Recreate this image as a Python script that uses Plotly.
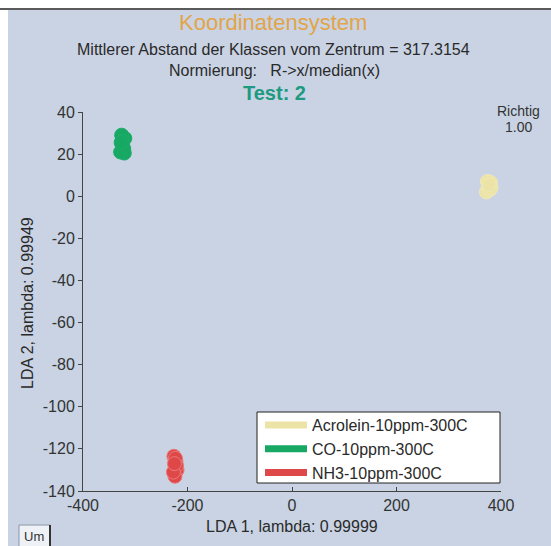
import plotly.graph_objects as go

# ---- data ----
acrolein_x = [372, 376, 380, 378, 374, 381, 377]
acrolein_y = [2.0, 4.5, 6.5, 3.0, 7.0, 4.0, 5.5]
co_x = [-328, -324, -320, -326, -322, -325, -321, -327]
co_y = [21.0, 24.0, 27.5, 29.0, 22.5, 26.0, 20.5, 25.5]
nh3_x = [-226, -222, -220, -224, -221, -227, -223, -225]
nh3_y = [-123.5, -126.0, -130.0, -133.0, -128.0, -131.0, -124.5, -127.0]

series_names = ["Acrolein-10ppm-300C", "CO-10ppm-300C", "NH3-10ppm-300C"]
series_colors = ["#ece4a6", "#17a864", "#de4848"]

x_ticks = [-400, -200, 0, 200, 400]
y_ticks = [40, 20, 0, -20, -40, -60, -80, -100, -120, -140]

W, H = 551, 546
L, R, T, B = 83, 50, 112, 55
PW, PH = W - L - R, H - T - B


def px(xp):
    return (xp - L) / PW


def py(yp):
    return (H - B - yp) / PH


FONT = "Liberation Sans, Arial, sans-serif"
BG = "#c9d3e4"

fig = go.Figure()

data_sets = [(acrolein_x, acrolein_y), (co_x, co_y), (nh3_x, nh3_y)]
line_cols = ["#efe9b8", "#1cad69", "#ec7a7a"]
for (xs, ys), name, col, lc in zip(data_sets, series_names, series_colors, line_cols):
    fig.add_trace(go.Scatter(
        x=xs, y=ys, mode="markers", name=name, showlegend=False,
        marker=dict(size=14, color=col, line=dict(color=lc, width=1)),
    ))

# legend entries (line swatches)
for name, col in zip(series_names, series_colors):
    fig.add_trace(go.Scatter(
        x=[None], y=[None], mode="lines", name=name,
        line=dict(color=col, width=7),
    ))

shapes = [
    dict(type="rect", xref="paper", yref="paper",
         x0=px(8), x1=px(W + 5), y0=py(10), y1=py(H + 5),
         fillcolor=BG, line=dict(width=0), layer="below"),
    dict(type="line", xref="paper", yref="paper",
         x0=px(-2), x1=px(W + 2), y0=py(9), y1=py(9),
         line=dict(color="#5a5a5a", width=2)),
    dict(type="rect", xref="paper", yref="paper",
         x0=px(19), x1=px(50), y0=py(525), y1=py(H + 2),
         fillcolor="#eef1f6", line=dict(color="#8a96a8", width=1)),
    dict(type="line", xref="paper", yref="paper",
         x0=px(50), x1=px(50), y0=py(525), y1=py(H + 2),
         line=dict(color="#333333", width=2)),
    # legend frame
    dict(type="rect", xref="paper", yref="paper",
         x0=px(257), x1=px(500), y0=py(412), y1=py(483),
         fillcolor="white", line=dict(color="#222222", width=1)),
]

annotations = [
    dict(text="Koordinatensystem", x=px(273), y=py(23), xref="paper", yref="paper",
         showarrow=False, font=dict(size=22, color="#e2a548", family=FONT),
         xanchor="center", yanchor="middle"),
    dict(text="Mittlerer Abstand der Klassen vom Zentrum = 317.3154", x=px(273), y=py(50),
         xref="paper", yref="paper", showarrow=False,
         font=dict(size=16, color="#2a2a2a", family=FONT), xanchor="center", yanchor="middle"),
    dict(text="Normierung:   R-&gt;x/median(x)", x=px(274), y=py(71),
         xref="paper", yref="paper", showarrow=False,
         font=dict(size=16, color="#2a2a2a", family=FONT), xanchor="center", yanchor="middle"),
    dict(text="<b>Test: 2</b>", x=px(274), y=py(93), xref="paper", yref="paper",
         showarrow=False, font=dict(size=20, color="#1d9a80", family=FONT),
         xanchor="center", yanchor="middle"),
    dict(text="Richtig", x=px(495), y=py(111), xref="paper", yref="paper",
         showarrow=False, font=dict(size=14, color="#333333", family=FONT),
         xanchor="left", yanchor="middle"),
    dict(text="1.00", x=px(518), y=py(127), xref="paper", yref="paper",
         showarrow=False, font=dict(size=14, color="#333333", family=FONT),
         xanchor="center", yanchor="middle"),
    dict(text="LDA 1, lambda: 0.99999", x=px(292), y=py(526), xref="paper", yref="paper",
         showarrow=False, font=dict(size=16, color="#2a2a2a", family=FONT),
         xanchor="center", yanchor="middle"),
    dict(text="LDA 2, lambda: 0.99949", x=px(27), y=py(303), xref="paper", yref="paper",
         showarrow=False, textangle=-90, font=dict(size=16, color="#2a2a2a", family=FONT),
         xanchor="center", yanchor="middle"),
    dict(text="Um", x=px(34), y=py(536), xref="paper", yref="paper",
         showarrow=False, font=dict(size=13, color="#333333", family=FONT),
         xanchor="center", yanchor="middle"),
]

fig.update_layout(
    width=W, height=H, autosize=False,
    margin=dict(l=L, r=R, t=T, b=B, pad=0),
    paper_bgcolor="white", plot_bgcolor="white",
    font=dict(family=FONT, color="#333333", size=16),
    shapes=shapes, annotations=annotations,
    showlegend=True,
    legend=dict(
        x=px(260), y=py(408), xanchor="left", yanchor="top",
        bgcolor="rgba(0,0,0,0)", borderwidth=0,
        font=dict(size=16, color="#2a2a2a", family=FONT),
        itemwidth=42, tracegroupgap=0,
    ),
)

fig.update_xaxes(
    range=[-400, 400], tickvals=x_ticks, ticktext=[str(v) for v in x_ticks],
    showgrid=False, zeroline=False, showline=True, linecolor="#444444", linewidth=1,
    ticks="inside", ticklen=4, tickcolor="#444444",
    tickfont=dict(size=16, color="#333333", family=FONT),
)
fig.update_yaxes(
    range=[-140, 40], tickvals=y_ticks, ticktext=[str(v) for v in y_ticks],
    showgrid=False, zeroline=False, showline=True, linecolor="#444444", linewidth=1,
    ticks="outside", ticklen=4, tickcolor="#444444",
    tickfont=dict(size=16, color="#333333", family=FONT),
)

fig.write_html("out.html")
